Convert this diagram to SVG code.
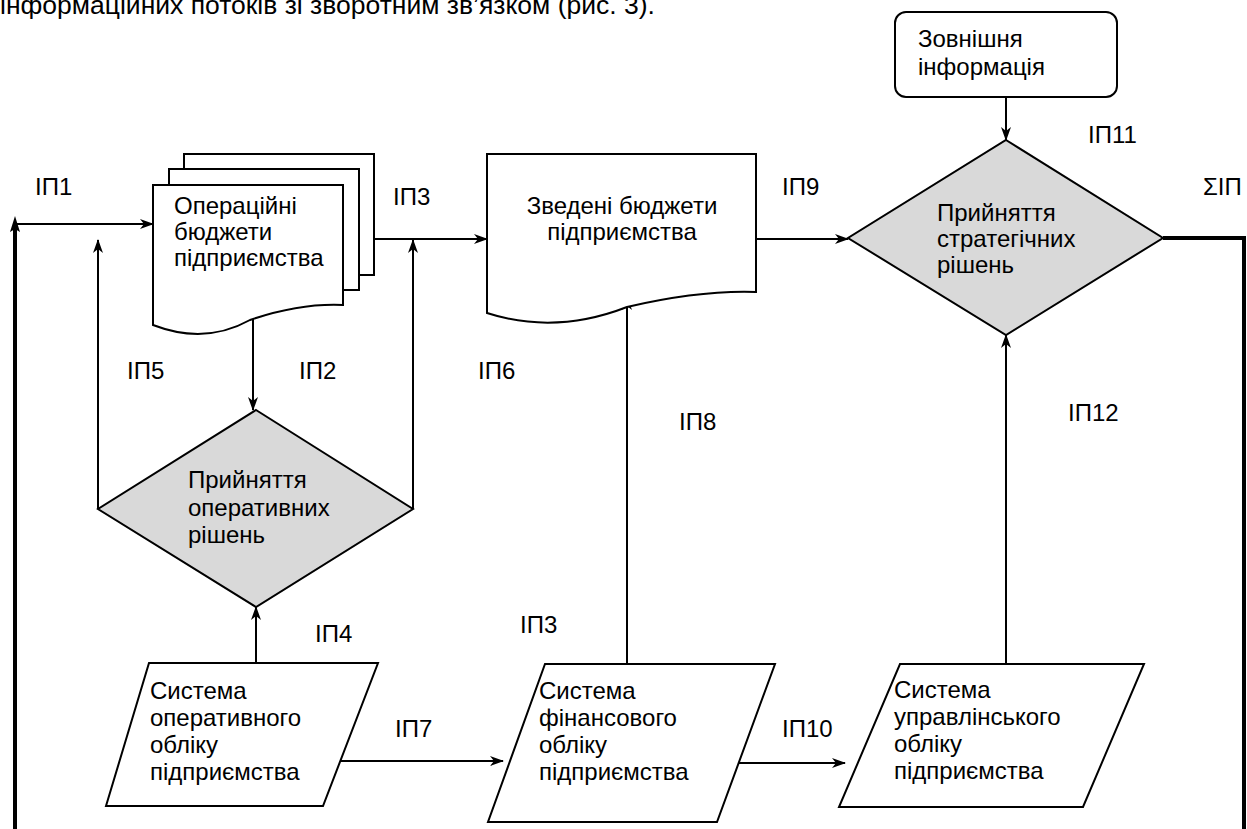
<svg xmlns="http://www.w3.org/2000/svg" width="1247" height="829" viewBox="0 0 1247 829">
<defs>
<marker id="arr" viewBox="0 0 14 10" refX="13" refY="5" markerWidth="14" markerHeight="10" markerUnits="userSpaceOnUse" orient="auto">
<path d="M0,0 L14,5 L0,10 L4,5 Z" fill="#000"/>
</marker>
<style>
text{font-family:"Liberation Sans",Arial,sans-serif;font-size:24px;fill:#000}
.top{font-size:26.5px}
.shape{fill:#fff;stroke:#000;stroke-width:2}
.dia{fill:#d9d9d9;stroke:#000;stroke-width:2}
.ln{fill:none;stroke:#000;stroke-width:2}
.thick{fill:none;stroke:#000;stroke-width:4}
</style>
</defs>
<rect width="1247" height="829" fill="#fff"/>
<text class="top" x="0" y="14">інформаційних потоків зі зворотним зв’язком (рис. 3).</text>

<g id="connectors">
<polyline class="thick" points="15,829 15,226"/>
<path d="M15,216 L20,232 L15,229 L10,232 Z" fill="#000"/>
<line class="ln" x1="15" y1="224" x2="153" y2="224" marker-end="url(#arr)"/>
<line class="ln" x1="359" y1="239" x2="487" y2="239" marker-end="url(#arr)"/>
<polyline class="ln" points="98,509 98,240" marker-end="url(#arr)"/>
<polyline class="ln" points="413,509 413,240" marker-end="url(#arr)"/>
<line class="ln" x1="253" y1="313" x2="253" y2="410" marker-end="url(#arr)"/>
<line class="ln" x1="256" y1="663" x2="256" y2="607" marker-end="url(#arr)"/>
<line class="ln" x1="627" y1="663" x2="627" y2="297" marker-end="url(#arr)"/>
<line class="ln" x1="756" y1="239" x2="848" y2="239" marker-end="url(#arr)"/>
<line class="ln" x1="1006" y1="97" x2="1006" y2="140" marker-end="url(#arr)"/>
<line class="ln" x1="1006" y1="663" x2="1006" y2="335" marker-end="url(#arr)"/>
<polyline class="thick" points="1163,238 1244,238 1244,829"/>
<line class="ln" x1="341" y1="761" x2="503" y2="761" stroke-width="3" marker-end="url(#arr)"/>
<line class="ln" x1="718" y1="763" x2="845" y2="763" marker-end="url(#arr)"/>
</g>

<g id="op-budgets">
<rect class="shape" x="184" y="154" width="190" height="121"/>
<rect class="shape" x="169" y="169" width="190" height="121"/>
<path class="shape" d="M153,185 H343 V305 Q300,303 250,320 Q205,345 153,325 Z"/>
<text x="174" y="214">Операційні</text>
<text x="174" y="240">бюджети</text>
<text x="174" y="266">підприємства</text>
</g>

<g id="summary-budgets">
<path class="shape" d="M487,154 H756 V292 Q700,290 627,307 Q555,335 487,313 Z"/>
<text x="622" y="214" text-anchor="middle">Зведені бюджети</text>
<text x="622" y="240" text-anchor="middle">підприємства</text>
</g>

<g id="external">
<rect class="shape" x="895" y="12" width="222" height="85" rx="11"/>
<text x="918" y="47">Зовнішня</text>
<text x="918" y="75">інформація</text>
</g>

<g id="strategic">
<polygon class="dia" points="1006,140 1163,238 1006,335 848,238"/>
<text x="937" y="221">Прийняття</text>
<text x="937" y="247">стратегічних</text>
<text x="937" y="273">рішень</text>
</g>

<g id="operative">
<polygon class="dia" points="256,410 413,509 256,607 98,509"/>
<text x="188" y="488">Прийняття</text>
<text x="188" y="516">оперативних</text>
<text x="188" y="543">рішень</text>
</g>

<g id="sys-oper">
<polygon class="shape" points="149,663 378,663 323,806 106,806"/>
<text x="150" y="699">Система</text>
<text x="150" y="726">оперативного</text>
<text x="150" y="753">обліку</text>
<text x="150" y="780">підприємства</text>
</g>

<g id="sys-fin">
<polygon class="shape" points="545,664 775,664 717,822 488,822"/>
<text x="539" y="699">Система</text>
<text x="539" y="726">фінансового</text>
<text x="539" y="753">обліку</text>
<text x="539" y="780">підприємства</text>
</g>

<g id="sys-mgmt">
<polygon class="shape" points="900,664 1144,664 1083,807 839,807"/>
<text x="894" y="698">Система</text>
<text x="894" y="725">управлінського</text>
<text x="894" y="752">обліку</text>
<text x="894" y="779">підприємства</text>
</g>

<g id="labels">
<text x="35" y="195">ІП1</text>
<text x="393" y="205">ІП3</text>
<text x="782" y="195">ІП9</text>
<text x="1088" y="143">ІП11</text>
<text x="1203" y="195">ΣІП</text>
<text x="127" y="379">ІП5</text>
<text x="299" y="379">ІП2</text>
<text x="478" y="379">ІП6</text>
<text x="679" y="430">ІП8</text>
<text x="1068" y="421">ІП12</text>
<text x="315" y="642">ІП4</text>
<text x="520" y="633">ІП3</text>
<text x="395" y="737">ІП7</text>
<text x="782" y="737">ІП10</text>
</g>
</svg>
